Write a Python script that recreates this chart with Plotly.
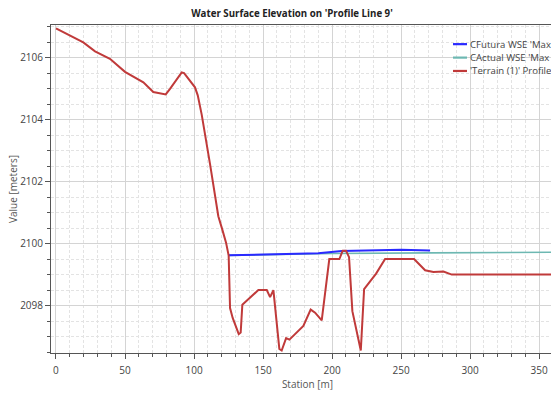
import plotly.graph_objects as go

# Terrain profile
terrain_x = [0, 19.8, 28.3, 39.1, 50, 63.3, 70.5, 79.5, 82.6, 91.1, 92.8, 100.7, 102.7,
             105.6, 111.6, 117.6, 120.5, 123.2, 125.1, 126.1, 128, 132.4, 133.8, 135,
             146.6, 152.7, 155.1, 157.5, 161.8, 163.5, 166.7, 169.1, 179.2, 184.5, 187.7,
             192.5, 198, 205.3, 207.7, 210.1, 212.3, 214.7, 220.8, 223.2, 231.9, 238.4,
             259.4, 267.4, 273.4, 280.7, 286.7, 370]
terrain_y = [2106.94, 2106.49, 2106.2, 2105.96, 2105.54, 2105.2, 2104.89, 2104.81, 2104.99,
             2105.52, 2105.5, 2105.04, 2104.78, 2104.15, 2102.56, 2100.88, 2100.45, 2100.03,
             2099.61, 2097.92, 2097.6, 2097.08, 2097.13, 2098.03, 2098.5, 2098.5, 2098.27,
             2098.5, 2096.6, 2096.55, 2096.95, 2096.9, 2097.34, 2097.87, 2097.77, 2097.52,
             2099.5, 2099.5, 2099.77, 2099.77, 2099.56, 2097.82, 2096.55, 2098.53, 2099.03,
             2099.5, 2099.5, 2099.14, 2099.08, 2099.1, 2099.0, 2099.0]

# Water surface elevations
futura_x = [125, 165, 190, 207, 250, 271]
futura_y = [2099.62, 2099.65, 2099.69, 2099.76, 2099.8, 2099.78]
actual_x = [125, 200, 270, 370]
actual_y = [2099.62, 2099.68, 2099.7, 2099.72]

names = ["CFutura WSE 'Max WS'", "CActual WSE 'Max WS'", "'Terrain (1)' Profile"]
colors = ["#2a2aff", "#6db8b2", "#c03a3a"]
widths = [2, 1.6, 2]

W, H = 584, 397
ML, MR, MT, MB = 51, 20, 25, 38
PW, PH = W - ML - MR, H - MT - MB

fig = go.Figure()
fig.add_trace(go.Scatter(x=actual_x, y=actual_y, mode="lines", name=names[1],
                         line=dict(color=colors[1], width=widths[1]), showlegend=False))
fig.add_trace(go.Scatter(x=futura_x, y=futura_y, mode="lines", name=names[0],
                         line=dict(color=colors[0], width=widths[0]), showlegend=False))
fig.add_trace(go.Scatter(x=terrain_x, y=terrain_y, mode="lines", name=names[2],
                         line=dict(color=colors[2], width=widths[2]), showlegend=False))

# Legend (drawn as swatches + text so spacing matches the original)
leg_x0, leg_x1, leg_tx = 453, 467, 468
leg_rows = [44.5, 58.2, 71.8]
for name, col, w, ry in zip(names, colors, widths, leg_rows):
    yp = 1 - (ry - MT) / PH
    fig.add_shape(type="line", xref="paper", yref="paper",
                  x0=(leg_x0 - ML) / PW, x1=(leg_x1 - ML) / PW, y0=yp, y1=yp,
                  line=dict(color=col, width=2.2))
    fig.add_annotation(xref="paper", yref="paper", x=(leg_tx - ML) / PW, y=yp,
                       xanchor="left", yanchor="middle", showarrow=False,
                       text=name, font=dict(size=9.6, color="#444444"))

axis_common = dict(
    showline=True, linecolor="#555555", linewidth=1, mirror=True,
    ticks="outside", ticklen=5, tickcolor="#555555",
    showgrid=True, gridcolor="#d4d4d4", gridwidth=1,
    tickfont=dict(size=10, color="#444444"),
    zeroline=False,
)

fig.update_layout(
    width=W, height=H,
    margin=dict(l=ML, r=MR, t=MT, b=MB),
    paper_bgcolor="white", plot_bgcolor="white",
    font=dict(family="Open Sans", color="#444444"),
    title=dict(text="<b>Water Surface Elevation on 'Profile Line 9'</b>",
               x=0.5, xanchor="center", y=1 - 13.5 / H, yanchor="middle",
               font=dict(size=9.7, color="#222222")),
    showlegend=False,
)

fig.update_xaxes(**axis_common, range=[-3.6, 368], dtick=50, tick0=0,
                 ticklabelstandoff=3,
                 title=dict(text="Station [m]", font=dict(size=10, color="#555555"), standoff=1),
                 minor=dict(dtick=10, ticks="outside", ticklen=3, tickcolor="#555555",
                            showgrid=True, gridcolor="#e3e3e3", griddash="3px,2px"))
fig.update_yaxes(**axis_common, range=[2096.47, 2107.05], dtick=2, tick0=2100,
                 title=dict(text="Value [meters]", font=dict(size=10, color="#555555"), standoff=0),
                 minor=dict(dtick=0.5, ticks="outside", ticklen=3, tickcolor="#555555",
                            showgrid=True, gridcolor="#e3e3e3", griddash="3px,2px"))

fig.write_html("out.html",
               post_script="document.documentElement.style.overflow='hidden';"
                           "document.body.style.overflow='hidden';")
